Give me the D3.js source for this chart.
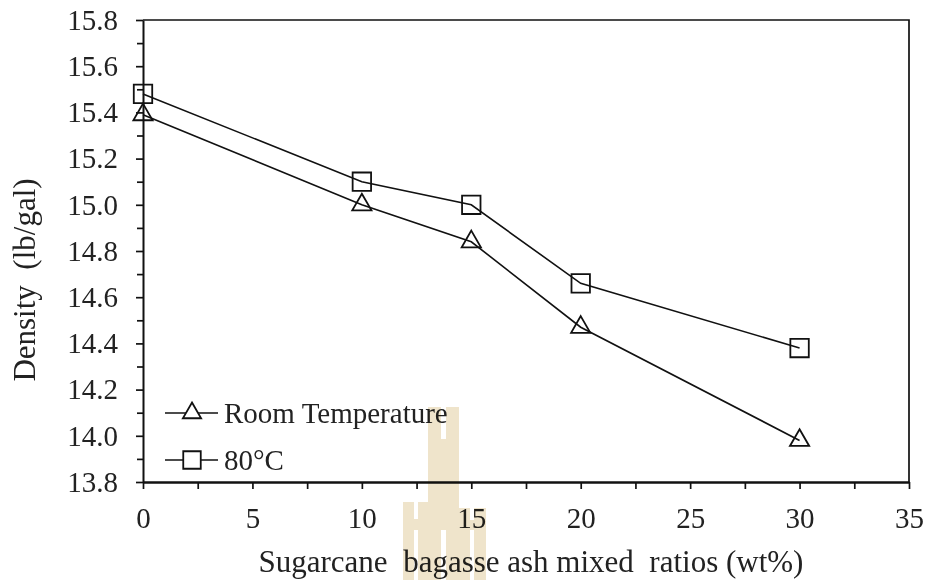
<!DOCTYPE html>
<html>
<head>
<meta charset="utf-8">
<script src="https://cdn.jsdelivr.net/npm/d3@7"></script>
<style>
  body { margin: 0; background: #fff; }
  svg text { font-family: "Liberation Serif", "Times New Roman", serif; fill: #222; }
</style>
</head>
<body>
<div id="chart"></div>
<script>
// data
const ratios = [0, 10, 15, 20, 30];
const roomTemp = [15.39, 15.00, 14.84, 14.47, 13.98];
const hot80 = [15.48, 15.10, 15.00, 14.66, 14.38];
const seriesNames = ['Room Temperature', '80°C'];
const xTicks = [0, 5, 10, 15, 20, 25, 30, 35];
const yTicks = [13.8, 14.0, 14.2, 14.4, 14.6, 14.8, 15.0, 15.2, 15.4, 15.6, 15.8];

const width = 928, height = 580;
const margin = {top: 20, right: 19, bottom: 98, left: 143};

const svg = d3.select('#chart')
  .append('svg')
  .attr('width', width)
  .attr('height', height);

const x = d3.scaleLinear().domain([0, 35]).range([margin.left, width - margin.right]);
const y = d3.scaleLinear().domain([13.8, 15.8]).range([height - margin.bottom, margin.top]);

// top and right frame
svg.append('path')
  .attr('d', `M${x(0)},${y(15.8)}H${x(35)}V${y(13.8)}`)
  .attr('fill', 'none')
  .attr('stroke', '#111')
  .attr('stroke-width', 1.7);

// minor ticks
svg.append('g')
  .attr('transform', `translate(0,${y(13.8)})`)
  .call(d3.axisBottom(x).tickValues(d3.range(2.5, 35, 5)).tickSize(7).tickFormat(''))
  .call(g => g.select('.domain').remove())
  .call(g => g.selectAll('line').attr('stroke', '#111').attr('stroke-width', 1.7));

svg.append('g')
  .attr('transform', `translate(${x(0)},0)`)
  .call(d3.axisLeft(y).tickValues(d3.range(13.9, 15.8, 0.2)).tickSize(6).tickFormat(''))
  .call(g => g.select('.domain').remove())
  .call(g => g.selectAll('line').attr('stroke', '#111').attr('stroke-width', 1.7));

// x axis
const xAxis = svg.append('g')
  .attr('transform', `translate(0,${y(13.8)})`)
  .call(d3.axisBottom(x).tickValues(xTicks).tickSize(7).tickSizeOuter(0).tickPadding(18).tickFormat(d3.format('d')));
xAxis.select('.domain').attr('stroke', '#111').attr('stroke-width', 2.6);
xAxis.selectAll('line').attr('stroke', '#111').attr('stroke-width', 1.7);
xAxis.selectAll('text').attr('font-size', 29).attr('fill', '#222');

// y axis
const yAxis = svg.append('g')
  .attr('transform', `translate(${x(0)},0)`)
  .call(d3.axisLeft(y).tickValues(yTicks).tickSize(7).tickSizeOuter(0).tickPadding(18).tickFormat(d3.format('.1f')));
yAxis.select('.domain').attr('stroke', '#111').attr('stroke-width', 2);
yAxis.selectAll('line').attr('stroke', '#111').attr('stroke-width', 1.7);
yAxis.selectAll('text').attr('font-size', 29).attr('fill', '#222');

// axis titles
svg.append('text')
  .attr('x', 531)
  .attr('y', 572)
  .attr('text-anchor', 'middle')
  .attr('font-size', 31)
  .style('white-space', 'pre')
  .text('Sugarcane  bagasse ash mixed  ratios (wt%)');

svg.append('text')
  .attr('transform', 'translate(35,280) rotate(-90)')
  .attr('text-anchor', 'middle')
  .attr('font-size', 31)
  .style('white-space', 'pre')
  .text('Density  (lb/gal)');

// series
const series = [
  {name: seriesNames[0], values: roomTemp, symbol: d3.symbolTriangle, size: 160},
  {name: seriesNames[1], values: hot80, symbol: d3.symbolSquare, size: 340}
];

const line = d3.line()
  .x((d, i) => x(ratios[i]))
  .y(d => y(d));

series.forEach(s => {
  svg.append('path')
    .datum(s.values)
    .attr('d', line)
    .attr('fill', 'none')
    .attr('stroke', '#111')
    .attr('stroke-width', 1.6);

  svg.append('g')
    .selectAll('path')
    .data(s.values)
    .enter()
    .append('path')
    .attr('transform', (d, i) => `translate(${x(ratios[i])},${y(d)})`)
    .attr('d', d3.symbol().type(s.symbol).size(s.size))
    .attr('fill', 'none')
    .attr('stroke', '#111')
    .attr('stroke-width', 1.8);
});

// legend
const legend = svg.append('g');
series.forEach((s, i) => {
  const ly = 413 + i * 47;
  legend.append('line')
    .attr('x1', 165).attr('x2', 218)
    .attr('y1', ly).attr('y2', ly)
    .attr('stroke', '#111')
    .attr('stroke-width', 1.6);
  legend.append('path')
    .attr('transform', `translate(192,${ly})`)
    .attr('d', d3.symbol().type(s.symbol).size(s.size * 0.9))
    .attr('fill', '#fff')
    .attr('stroke', '#111')
    .attr('stroke-width', 1.8);
  legend.append('text')
    .attr('x', 224)
    .attr('y', ly + 10)
    .attr('font-size', 29)
    .text(s.name);
});

// faint logo watermark laid over the page
const wmPieces = [
  [428, 407, 13, 173], [446, 407, 13, 173], [441, 439, 5, 91],
  [403, 502, 11, 78], [418, 502, 10, 78], [414, 519, 4, 11],
  [459, 508, 11, 72], [474, 508, 12, 72], [470, 520, 4, 10]
];
svg.append('g')
  .style('mix-blend-mode', 'multiply')
  .attr('fill', '#efe4cb')
  .selectAll('rect')
  .data(wmPieces)
  .enter()
  .append('rect')
  .attr('x', d => d[0]).attr('y', d => d[1])
  .attr('width', d => d[2]).attr('height', d => d[3]);
</script>
</body>
</html>
